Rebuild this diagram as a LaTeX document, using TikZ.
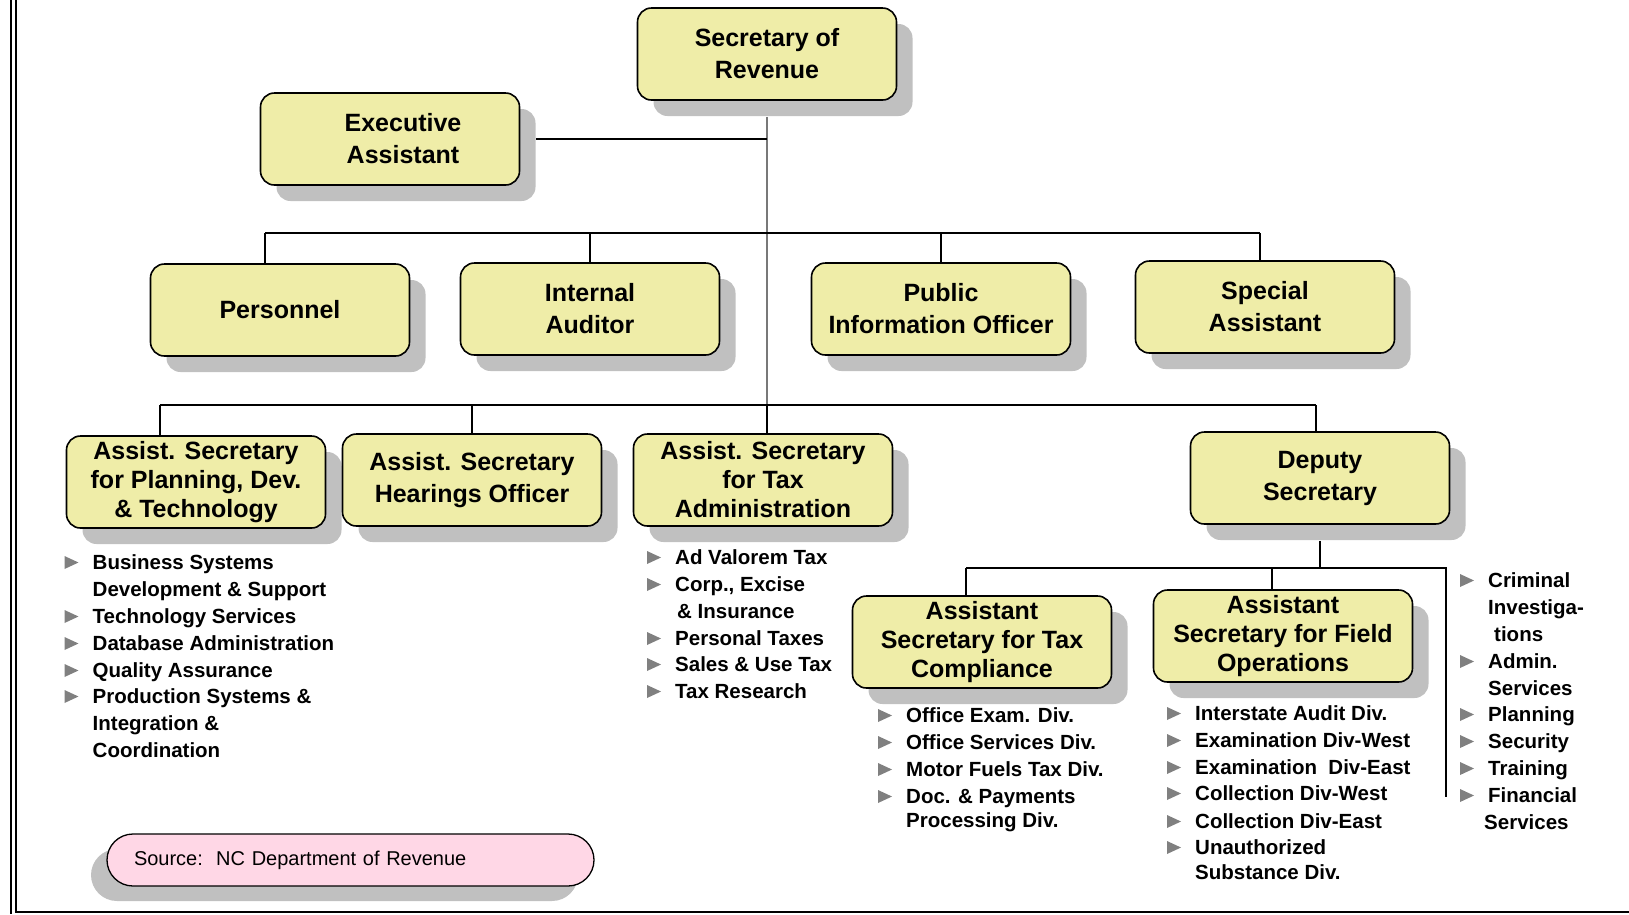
\documentclass[tikz,border=0pt]{standalone}
\usepackage{fontspec}
\setmainfont{Liberation Sans}
\usetikzlibrary{calc,shadows}
\definecolor{boxfill}{RGB}{239,237,168}
\definecolor{shadowgray}{RGB}{192,192,192}
\definecolor{srcpink}{RGB}{255,215,230}
\definecolor{tipgray}{RGB}{128,128,128}
\definecolor{stemgray}{RGB}{120,120,120}

\begin{document}
\begin{tikzpicture}[x=1pt,y=-1pt,
  box/.style={draw,line width=1.6pt,fill=boxfill,rounded corners=14pt,
    minimum width=259pt,minimum height=92pt,inner sep=2pt,align=center,
    font=\bfseries\fontsize{25}{32}\selectfont,
    general shadow={fill=shadowgray,shadow xshift=16pt,shadow yshift=-16pt}},
  tight/.style={font=\bfseries\fontsize{25}{29}\selectfont},
  link/.style={line width=1.3pt},
  item/.style={anchor=base west,inner sep=0pt,font=\bfseries\fontsize{20.5}{24}\selectfont},
  tip/.style={fill=tipgray},
  srcbox/.style={draw,line width=1.3pt,fill=srcpink,rounded corners=26pt,
    minimum height=52pt,text width=433pt,inner xsep=27pt,align=left,
    font=\fontsize{20}{24}\selectfont,
    general shadow={fill=shadowgray,shadow xshift=-16pt,shadow yshift=-15pt}}]
  \useasboundingbox (0,0) rectangle (1629,914);

  % page frame
  \draw[line width=2pt] (10.5,0) -- (10.5,914);
  \draw[line width=2pt] (15.5,0) -- (15.5,912) -- (1629,912);

  % boxes
  \node[box] (sec) at (767,54) {Secretary of\\Revenue};
  \node[box] (exec) at (390,139) {\hspace*{26pt}Executive\\\hspace*{26pt}Assistant};
  \node[box] (pers) at (280,310) {Personnel};
  \node[box] (audit) at (590,309) {Internal\\Auditor};
  \node[box] (pio) at (941,309) {Public\\Information Officer};
  \node[box] (spec) at (1265,307) {Special\\Assistant};
  \node[box,tight] (plan) at (196,482) {Assist. Secretary\\for Planning, Dev.\\\& Technology};
  \node[box] (hear) at (472,480) {Assist. Secretary\\Hearings Officer};
  \node[box,tight] (taxadm) at (763,480) {Assist. Secretary\\for Tax\\Administration};
  \node[box] (dep) at (1320,478) {Deputy\\Secretary};
  \node[box,tight] (comp) at (982,642) {Assistant\\Secretary for Tax\\Compliance};
  \node[box,tight] (field) at (1283,636) {Assistant\\Secretary for Field\\Operations};

  \coordinate (b1w) at (265,233); \coordinate (b1e) at (1260,233);
  \coordinate (b2w) at (160,405); \coordinate (b2e) at (1316,405);
  \coordinate (b3w) at (966,568); \coordinate (b3e) at (1446,568);
  \coordinate (b3s) at (1446,797);

  % connectors
  \draw[stemgray,line width=1.1pt] ([yshift=-16pt]sec.south) -- (sec.south |- b2w);
  \draw[link] ([xshift=16pt]exec.east) -- (exec.east -| sec.south);
  \draw[link] (b1w) -- (b1e);
  \draw[link] (b1w) -- (pers.north -| b1w);
  \draw[link] (audit.north) -- (audit.north |- b1w);
  \draw[link] (pio.north) -- (pio.north |- b1w);
  \draw[link] (b1e) -- (spec.north -| b1e);
  \draw[link] (b2w) -- (b2e);
  \draw[link] (b2w) -- (plan.north -| b2w);
  \draw[link] (hear.north) -- (hear.north |- b2w);
  \draw[link] (sec.south |- b2w) -- (taxadm.north -| sec.south);
  \draw[link] (b2e) -- (dep.north -| b2e);
  \draw[link] ([yshift=-16pt]dep.south) -- (dep.south |- b3w);
  \draw[link] (b3w) -- (b3e) -- (b3s);
  \draw[link] (b3w) -- (comp.north -| b3w);
  \draw[link] ([xshift=-11pt]field.north) |- (b3w);

  % lists under the boxes
  \foreach \b/\y/\t in {1/569/Business Systems, 0/596/Development \& Support,
      1/623/Technology Services, 1/650/Database Administration,
      1/677/Quality Assurance, 1/703/Production Systems \&,
      0/730/Integration \&, 0/757/Coordination} {
    \node[item] (pl-\y) at (92.5,\y) {\t};
    \ifnum\b>0 \fill[tip] ($(pl-\y.base west)+(-28,-13)$) -- ++(14,6.5) -- ++(-14,6.5) -- cycle; \fi
  }
  \foreach \b/\y/\t in {1/564/Ad Valorem Tax, 1/591/{Corp., Excise},
      0/618/\hspace*{2pt}\& Insurance, 1/645/Personal Taxes,
      1/671/Sales \& Use Tax, 1/698/Tax Research} {
    \node[item] (ta-\y) at (675,\y) {\t};
    \ifnum\b>0 \fill[tip] ($(ta-\y.base west)+(-28,-13)$) -- ++(14,6.5) -- ++(-14,6.5) -- cycle; \fi
  }
  \foreach \b/\y/\t in {1/722/Office Exam. Div., 1/749/Office Services Div.,
      1/776/Motor Fuels Tax Div., 1/803/Doc. \& Payments,
      0/827/Processing Div.} {
    \node[item] (tc-\y) at (906,\y) {\t};
    \ifnum\b>0 \fill[tip] ($(tc-\y.base west)+(-28,-13)$) -- ++(14,6.5) -- ++(-14,6.5) -- cycle; \fi
  }
  \foreach \b/\y/\t in {1/720/Interstate Audit Div., 1/747/Examination Div-West,
      1/774/Examination\ \ Div-East, 1/800/Collection Div-West,
      1/828/Collection Div-East, 1/854/Unauthorized, 0/879/Substance Div.} {
    \node[item] (fo-\y) at (1195,\y) {\t};
    \ifnum\b>0 \fill[tip] ($(fo-\y.base west)+(-28,-13)$) -- ++(14,6.5) -- ++(-14,6.5) -- cycle; \fi
  }
  \foreach \b/\y/\t in {1/587/Criminal, 0/614/Investiga-, 0/641/\hspace*{6pt}tions,
      1/668/Admin., 0/695/Services, 1/721/Planning, 1/748/Security,
      1/775/Training, 1/802/Financial, 0/829/\hspace*{-4pt}Services} {
    \node[item] (ds-\y) at (1488,\y) {\t};
    \ifnum\b>0 \fill[tip] ($(ds-\y.base west)+(-28,-13)$) -- ++(14,6.5) -- ++(-14,6.5) -- cycle; \fi
  }

  \node[srcbox] (src) at (350.5,860) {Source:\ \ NC Department of Revenue};
\end{tikzpicture}
\end{document}
